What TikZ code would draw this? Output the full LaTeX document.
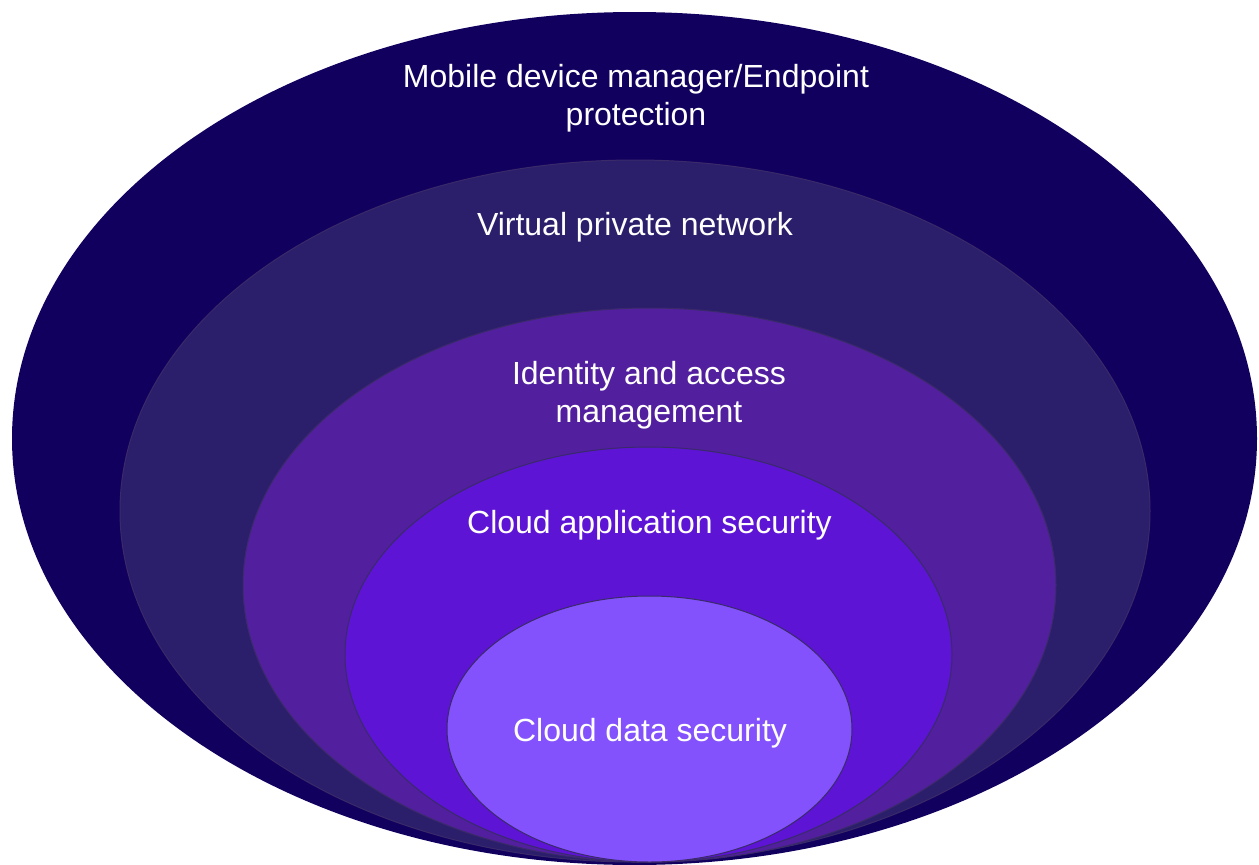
\documentclass[tikz,border=0pt]{standalone}
\usepackage{fontspec}
\setmainfont{Liberation Sans}
\definecolor{c1}{HTML}{12005E}
\definecolor{c2}{HTML}{2B1F6B}
\definecolor{c3}{HTML}{521F9E}
\definecolor{c4}{HTML}{5D14D5}
\definecolor{c5}{HTML}{8452FC}
\definecolor{edge}{HTML}{3A2A6A}
\begin{document}
\begin{tikzpicture}[x=1pt,y=-1pt,
  ring/.style={draw=edge,line width=1pt},
  lbl/.style={text=white,font=\fontsize{32}{38}\selectfont,align=center,inner sep=0pt}]
\useasboundingbox (0,0) rectangle (1259,865);
\fill[c1] (634.5,438.5) ellipse [x radius=622.5,y radius=426.5];
\filldraw[ring,fill=c2] (635,511) ellipse [x radius=515,y radius=351];
\filldraw[ring,fill=c3] (649.5,585) ellipse [x radius=406.5,y radius=277];
\filldraw[ring,fill=c4] (648.5,654.5) ellipse [x radius=303.5,y radius=207.5];
\filldraw[ring,fill=c5] (649.5,729) ellipse [x radius=202.5,y radius=133];
\node[lbl] (t1) at (636,98) {Mobile device manager/Endpoint\\protection};
\node[lbl] (t2) at (635,227) {Virtual private network};
\node[lbl] (t3) at (649,395) {Identity and access\\management};
\node[lbl] (t4) at (649.5,525) {Cloud application security};
\node[lbl] (t5) at (650,733) {Cloud data security};
\end{tikzpicture}
\end{document}
